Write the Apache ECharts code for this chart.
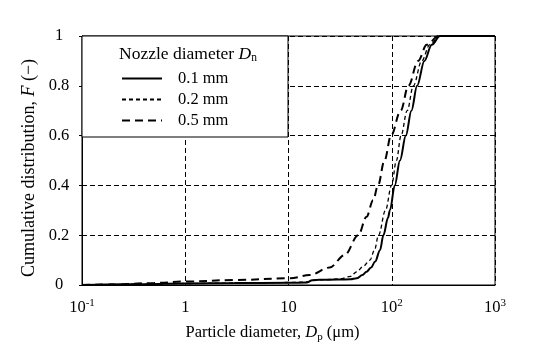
<!DOCTYPE html>
<html>
<head>
<meta charset="utf-8">
<script src="https://cdn.jsdelivr.net/npm/echarts@6/dist/echarts.min.js"></script>
<style>
html,body{margin:0;padding:0;background:#fff;}
#chart{width:554px;height:350px;}
</style>
</head>
<body>
<div id="chart"></div>
<script>
// ---- data ----
const seriesNames = ['0.1 mm', '0.2 mm', '0.5 mm'];
const xTickLabels = ['10^-1', '1', '10', '10^2', '10^3'];
const yTicks = [0, 0.2, 0.4, 0.6, 0.8, 1];

const dp01 = [0.1, 0.3, 1, 3, 10, 15, 17, 20, 30, 40, 45.7, 52, 57, 63, 69, 77, 83, 92, 96, 107, 120, 137, 155, 176, 207, 244, 293, 1000];
const f01  = [0, 0.003, 0.006, 0.008, 0.009, 0.01, 0.019, 0.021, 0.022, 0.023, 0.027, 0.04, 0.053, 0.07, 0.094, 0.14, 0.2, 0.27, 0.3, 0.4, 0.5, 0.6, 0.7, 0.8, 0.9, 0.965, 1, 1];

const dp02 = [0.1, 0.3, 1, 3, 10, 15, 18, 25, 31.5, 40, 45.7, 53, 61.5, 68, 74.5, 87, 99.6, 111, 123, 141, 162, 195, 234, 290, 1000];
const f02  = [0, 0.003, 0.006, 0.008, 0.01, 0.012, 0.02, 0.022, 0.025, 0.035, 0.053, 0.075, 0.1, 0.14, 0.2, 0.3, 0.4, 0.5, 0.6, 0.7, 0.8, 0.9, 0.965, 1, 1];

const dp05 = [0.1, 0.2, 0.5, 1, 3, 10.4, 16, 25, 35, 47.4, 57, 66, 73.6, 85, 98.4, 122, 145, 180, 218, 285, 1000];
const f05  = [0, 0.002, 0.008, 0.014, 0.02, 0.027, 0.04, 0.07, 0.12, 0.2, 0.274, 0.34, 0.4, 0.5, 0.6, 0.7, 0.8, 0.9, 0.965, 1, 1];

// ---- chart ----
const FONT = '"Liberation Serif", "Times New Roman", serif';
const FS = 16.5;
const pairs = (xs, ys) => xs.map((x, i) => [x, ys[i]]);
const chart = echarts.init(document.getElementById('chart'), null, {renderer: 'canvas'});

const supMap = {};
xTickLabels.forEach(s => {
  const m = s.split('^');
  const v = m.length > 1 ? Math.pow(10, Number(m[1])) : Number(s);
  supMap[Math.round(Math.log10(v))] = m;
});

const lineBase = {type: 'line', symbol: 'none', smooth: 0.35, smoothMonotone: 'x', z: 2};

chart.setOption({
  animation: false,
  backgroundColor: '#fff',
  grid: {left: 82, top: 36, right: 59, bottom: 65, show: true, borderColor: '#000', borderWidth: 1, backgroundColor: 'transparent'},
  xAxis: {
    type: 'log', logBase: 10, min: 0.1, max: 1000,
    axisLine: {show: true, lineStyle: {color: '#000', width: 1}},
    axisTick: {show: false},
    minorTick: {show: false},
    splitLine: {show: true, lineStyle: {color: '#000', width: 1, type: [5, 3]}},
    axisLabel: {
      margin: 13, color: '#000', fontFamily: FONT, fontSize: FS,
      showMinLabel: true, showMaxLabel: true,
      formatter: v => {
        const m = supMap[Math.round(Math.log10(v))];
        if (!m) return '';
        return m.length > 1 ? '{b|' + m[0] + '}{s|' + m[1] + '}' : '{b|' + m[0] + '}';
      },
      rich: {
        b: {fontFamily: FONT, fontSize: FS, color: '#000', lineHeight: 20, verticalAlign: 'middle'},
        s: {fontFamily: FONT, fontSize: 11, color: '#000', lineHeight: 11, verticalAlign: 'top'}
      }
    },
    name: '{t|Particle diameter, }{i|D}{s|p}{t| (μm)}',
    nameLocation: 'middle', nameGap: 38,
    nameTextStyle: {
      padding: [0, 32, 0, 0],
      rich: {
        t: {fontFamily: FONT, fontSize: FS, color: '#000', lineHeight: 20, verticalAlign: 'middle'},
        i: {fontFamily: FONT, fontSize: FS, fontStyle: 'italic', color: '#000', lineHeight: 20, verticalAlign: 'middle'},
        s: {fontFamily: FONT, fontSize: 11, color: '#000', lineHeight: 11, verticalAlign: 'bottom'}
      }
    }
  },
  yAxis: {
    type: 'value', min: yTicks[0], max: yTicks[yTicks.length - 1], interval: 0.2,
    axisLine: {show: true, lineStyle: {color: '#000', width: 1}},
    axisTick: {show: true, length: 3, lineStyle: {color: '#000'}},
    splitLine: {show: true, lineStyle: {color: '#000', width: 1, type: [5, 3]}},
    axisLabel: {margin: 23, align: 'center', color: '#000', fontFamily: FONT, fontSize: FS},
    name: '{t|Cumulative distribution, }{i|F}{t| (−)}',
    nameLocation: 'middle', nameGap: 43,
    nameTextStyle: {
      padding: [0, 15, 0, 0],
      rich: {
        t: {fontFamily: FONT, fontSize: 18, color: '#000'},
        i: {fontFamily: FONT, fontSize: 18, fontStyle: 'italic', color: '#000'}
      }
    }
  },
  legend: {
    orient: 'vertical', left: 116, top: 65,
    itemWidth: 40, itemHeight: 14, itemGap: 4,
    data: seriesNames,
    itemStyle: {color: 'rgba(0,0,0,0)', borderColor: 'rgba(0,0,0,0)', borderWidth: 0, opacity: 0},
    textStyle: {fontFamily: FONT, fontSize: FS, lineHeight: 15, color: '#000', padding: [0, 0, 0, 11]},
    z: 6
  },
  graphic: [
    {type: 'rect', z: 4, shape: {x: 82, y: 36, width: 206, height: 101},
     style: {fill: '#fff', stroke: '#000', lineWidth: 1}},
    {type: 'text', z: 6, x: 188, y: 54,
     style: {
       text: '{t|Nozzle diameter }{i|D}{s|n}',
       align: 'center', verticalAlign: 'middle',
       rich: {
         t: {fontFamily: FONT, fontSize: 17.5, fill: '#000', lineHeight: 20, verticalAlign: 'middle'},
         i: {fontFamily: FONT, fontSize: 17.5, fontStyle: 'italic', fill: '#000', lineHeight: 20, verticalAlign: 'middle'},
         s: {fontFamily: FONT, fontSize: 11.5, fill: '#000', lineHeight: 11, verticalAlign: 'bottom'}
       }
     }}
  ],
  series: [
    Object.assign({}, lineBase, {name: seriesNames[0], data: pairs(dp01, f01),
      lineStyle: {color: '#000', width: 2, type: 'solid'}, itemStyle: {color: '#000'}}),
    Object.assign({}, lineBase, {name: seriesNames[1], data: pairs(dp02, f02),
      lineStyle: {color: '#000', width: 1.3, type: [4, 3]}, itemStyle: {color: '#000'}}),
    Object.assign({}, lineBase, {name: seriesNames[2], data: pairs(dp05, f05),
      lineStyle: {color: '#000', width: 2, type: [8, 5]}, itemStyle: {color: '#000'}})
  ]
});
</script>
</body>
</html>
